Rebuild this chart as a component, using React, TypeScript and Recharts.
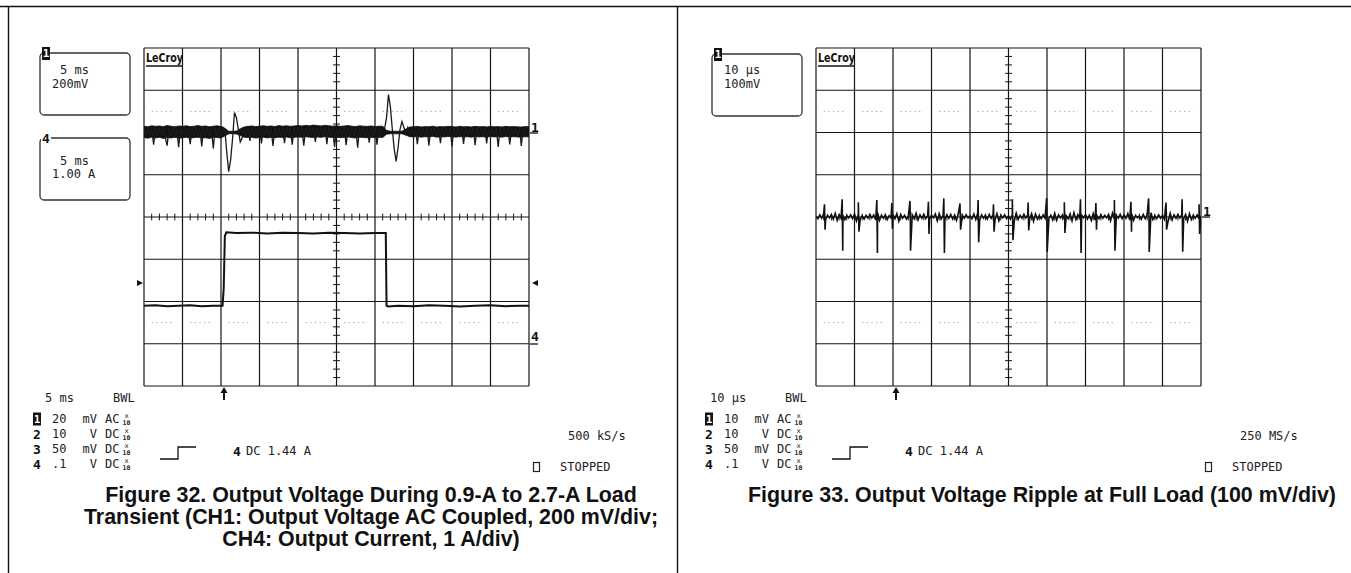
import React from "react";
import { ComposedChart, Line, Area, XAxis, YAxis, CartesianGrid, ReferenceLine } from "recharts";

// ---------- Figure 32: 0.9 A -> 2.7 A load transient, 5 ms/div ----------
// CH1 output voltage (AC coupled, mV), one reading every 0.25 ms from the left edge
const transientStepMs = 0.25;
const ch1TransientMv = [
  18, -16, 24, -22, 20, -58, 26, -18, 22, -14,
  25, -20, -62, 21, -17, 27, -24, 19, -70, 23,
  -15, 26, -21, 18, -55, 24, -19, 28, -23, 20,
  -66, 22, -18, 25, -20, 17, -75, 24, -16, 21,
  -22, 24, 15, -95, -185, -130, -30, 95, 70, 15,
  -45, -25, 18, -14, 22, -40, 20, -16, 24, -18,
  19, -52, 23, -15, 26, -20, 18, -64, 22, -17,
  25, -19, 21, -50, 27, -16, 20, -58, 24, -21,
  28, -17, 22, -62, 19, -15, 30, -22, 25, -45,
  21, -18, 32, -20, 26, -55, 29, -16, 24, -68,
  27, -19, 23, -15, 30, -60, 22, -18, 26, -21,
  20, -72, 25, -16, 28, -19, 22, -48, 24, -17,
  27, -58, 21, -20, 25, 18, 70, 180, 120, 15,
  -80, -137, -70, 15, 52, 25, -8, 22, -16, 24,
  -20, 26, -55, 19, -15, 23, -18, 27, -62, 21,
  -17, 25, -21, 20, -50, 24, -14, 28, -19, 22,
  -66, 23, -16, 26, -22, 19, -54, 25, -18, 21,
  -15, 27, -60, 22, -20, 24, -17, 29, -52, 23,
  -19, 26, -16, 20, -68, 25, -21, 22, -15, 27,
  -57, 21, -18, 24, -20, 26, -63, 22, -16, 25,
  20,
];
// CH1 noise band edges (mV), one every 0.5 ms
const bandStepMs = 0.5;
const ch1BandHighMv = [
  30, 27, 32, 29, 31, 28, 33, 30, 27, 31,
  29, 32, 28, 30, 33, 29, 31, 27, 30, 32,
  28, 20, 6, 6, 7, 18, 26, 29, 31, 28,
  30, 32, 29, 31, 28, 33, 30, 32, 29, 31,
  33, 31, 34, 32, 35, 33, 31, 34, 32, 30,
  32, 29, 31, 33, 30, 28, 32, 30, 29, 31,
  28, 30, 30, 10, 6, 6, 6, 6, 16, 26,
  27, 29, 26, 28, 27, 30, 26, 28, 27, 29,
  28, 26, 29, 27, 28, 26, 29, 27, 28, 26,
  29, 27, 28, 26, 29, 27, 28, 27, 26, 28,
  27,
];
const ch1BandLowMv = [
  -24, -27, -22, -26, -23, -28, -24, -26, -22, -27,
  -25, -23, -27, -24, -22, -26, -25, -28, -23, -24,
  -26, -16, -6, -6, -7, -14, -22, -24, -23, -26,
  -24, -22, -26, -23, -25, -22, -24, -21, -25, -23,
  -21, -23, -20, -22, -24, -21, -23, -20, -22, -24,
  -22, -25, -23, -21, -24, -26, -22, -24, -25, -23,
  -25, -23, -24, -8, -6, -6, -6, -6, -12, -20,
  -21, -19, -22, -20, -21, -18, -22, -20, -21, -19,
  -20, -22, -19, -21, -20, -22, -19, -21, -20, -22,
  -19, -21, -20, -22, -19, -21, -20, -21, -22, -20,
  -21,
];
// CH4 output current (A)
const ch4TimesMs = [
  0, 1.5, 3, 4.5, 6, 7.5, 9, 10.2, 10.35, 10.5, 10.7, 12, 14, 16, 18, 20, 22,
  24, 26, 28, 30, 31.4, 31.5, 31.7, 33, 35, 37, 39, 41, 43, 45, 47, 49, 50,
];
const ch4Amps = [
  0.9, 0.91, 0.89, 0.9, 0.91, 0.89, 0.9, 0.9, 1.3, 2.55, 2.64, 2.62, 2.63, 2.61,
  2.63, 2.62, 2.61, 2.63, 2.62, 2.61, 2.62, 2.62, 0.9, 0.88, 0.9, 0.89, 0.91,
  0.9, 0.88, 0.9, 0.91, 0.89, 0.9, 0.9,
];

// ---------- Figure 33: ripple at full load, 10 us/div ----------
const rippleStepUs = 0.5;
const rippleNoiseMv = [
  2, -4, 5, -3, 8, -6, 4, -2, 6, -5,
  9, -8, 5, -3, 4, -6, 3, -2, 5, -4,
  7, -9, 6, -4, 3, -5, 4, -3, 6, -2,
  5, -7, 10, -8, 4, -3, 5, -6, 3, -2,
  6, -4, 8, -10, 6, -3, 4, -5, 2, -3,
  5, -4, 9, -7, 5, -3, 6, -4, 3, -5,
  4, -2, 7, -9, 8, -5, 3, -4, 5, -3,
  6, -5, 4, -8, 10, -6, 4, -3, 5, -2,
  3, -4, 7, -6, 9, -8, 5, -3, 4, -5,
  6, -3, 5, -7, 8, -9, 4, -2, 5, -4,
  3, -5, 6, -8, 9, -6, 4, -3, 6, -2,
  5, -4, 8, -10, 7, -5, 3, -4, 5, -3,
  6, -3, 4, -7, 9, -8, 5, -2, 4, -5,
  3, -4, 7, -9, 10, -6, 5, -3, 4, -2,
  6, -5, 4, -8, 8, -7, 3, -4, 5, -3,
  4, -2, 6, -9, 9, -5, 4, -3, 6, -4,
  5, -3, 8, -7, 7, -8, 4, -2, 3, -5,
  6, -4, 5, -9, 10, -6, 3, -4, 5, -3,
  4, -5, 7, -8, 9, -7, 5, -3, 6, -2,
  5, -4, 6, -10, 8, -6, 4, -3, 5, -4,
  3,
];
// switching spikes: time, positive tip, negative tip
const spikeTimesUs = [
  2.2, 6.8, 11.0, 15.8, 19.7, 24.4, 29.2, 33.2, 37.4, 42.1, 46.1, 51.0, 55.1,
  59.9, 64.5, 68.7, 72.7, 77.5, 81.8, 86.4, 90.9, 95.1, 99.5,
];
const spikeHighMv = [
  30, 42, 35, 40, 33, 38, 36, 44, 32, 40, 30, 42, 34, 45, 35, 42, 33, 40, 36,
  44, 34, 42, 30,
];
const spikeLowMv = [
  -30, -80, -35, -85, -28, -80, -40, -85, -30, -60, -35, -55, -32, -82, -38,
  -85, -30, -80, -35, -83, -30, -82, -40,
];

// axis ticks (one per division)
const transientMsTicks = [0, 5, 10, 15, 20, 25, 30, 35, 40, 45, 50];
const transientMvTicks = [-1200, -1000, -800, -600, -400, -200, 0, 200, 400];
const rippleUsTicks = [0, 10, 20, 30, 40, 50, 60, 70, 80, 90, 100];
const rippleMvTicks = [-400, -300, -200, -100, 0, 100, 200, 300, 400];

// scope readout texts
const leftRows = [
  ["1", "20", "mV", "AC"],
  ["2", "10", "V", "DC"],
  ["3", "50", "mV", "DC"],
  ["4", ".1", "V", "DC"],
];
const rightRows = [
  ["1", "10", "mV", "AC"],
  ["2", "10", "V", "DC"],
  ["3", "50", "mV", "DC"],
  ["4", ".1", "V", "DC"],
];
const leftCaption = [
  "Figure 32. Output Voltage During 0.9-A to 2.7-A Load",
  "Transient (CH1: Output Voltage AC Coupled, 200 mV/div;",
  "CH4: Output Current, 1 A/div)",
];
const rightCaption = ["Figure 33. Output Voltage Ripple at Full Load (100 mV/div)"];

const ch1Data = ch1TransientMv.map((v, i) => ({ t: i * transientStepMs, v }));
const ch1Band = ch1BandHighMv.map((hi, i) => ({ t: i * bandStepMs, band: [ch1BandLowMv[i], hi] }));
const ch4Data = ch4TimesMs.map((t, i) => ({ t, a: ch4Amps[i] }));
const rippleData = [
  ...rippleNoiseMv.map((v, i) => ({ t: i * rippleStepUs, v })),
  ...spikeTimesUs.flatMap((t, i) => [
    { t, v: spikeHighMv[i] },
    { t: t + 0.15, v: spikeLowMv[i] },
  ]),
].sort((a, b) => a.t - b.t);

const INK = "#151515";
const mono = { fontFamily: "'DejaVu Sans Mono', monospace", fontSize: 12, fill: "#222" } as const;
const monoBold = { ...mono, fontWeight: 700, fontSize: 13, fill: "#111" } as const;

// graticule: centre-line minor ticks and the dotted guide rows, built from the tick lists
function graticule(xTicks: number[], yTicks: number[], xHalf: number, yHalf: number, yAxisId: string) {
  const xDiv = xTicks[1] - xTicks[0];
  const yDiv = yTicks[1] - yTicks[0];
  const xMid = xTicks[5];
  const yMid = yTicks[4];
  const out: React.ReactNode[] = [];
  for (let d = 0; d < 8; d++) {
    for (let k = 1; k < 5; k++) {
      const y = yTicks[d] + (k * yDiv) / 5;
      out.push(
        <ReferenceLine key={`ym${d}-${k}`} yAxisId={yAxisId} stroke={INK} strokeWidth={1}
          segment={[{ x: xMid - xHalf, y }, { x: xMid + xHalf, y }]} />
      );
    }
  }
  for (let d = 0; d < 10; d++) {
    for (let k = 1; k < 5; k++) {
      const x = xTicks[d] + (k * xDiv) / 5;
      out.push(
        <ReferenceLine key={`xm${d}-${k}`} yAxisId={yAxisId} stroke={INK} strokeWidth={1}
          segment={[{ x, y: yMid - yHalf }, { x, y: yMid + yHalf }]} />
      );
    }
  }
  [yMid + 2.5 * yDiv, yMid - 2.5 * yDiv].forEach((y, r) => {
    for (let d = 0; d < 10; d++) {
      out.push(
        <ReferenceLine key={`dot${r}-${d}`} yAxisId={yAxisId} stroke="#9a9a9a" strokeWidth={1}
          strokeDasharray="1.2 3.4"
          segment={[{ x: xTicks[d] + xDiv * 0.2, y }, { x: xTicks[d] + xDiv * 0.8, y }]} />
      );
    }
  });
  return out;
}

function InfoBox({ x, y, tag, inverted, l1, l1x, l2, ty }: any) {
  return (
    <g>
      <rect x={x} y={y} width={90} height={62} rx={4} fill="none" stroke="#333" strokeWidth={1.3} />
      {inverted ? (
        <g>
          <rect x={x + 2} y={y - 6} width={8} height={13} fill="#111" />
          <text x={x + 6} y={y + 0.5} textAnchor="middle" dominantBaseline="central"
            style={{ ...monoBold, fontSize: 11, fill: "#fff" }}>{tag}</text>
        </g>
      ) : (
        <g>
          <rect x={x + 1} y={y - 6} width={10} height={12} fill="#fff" />
          <text x={x + 6} y={y} textAnchor="middle" dominantBaseline="central" style={monoBold}>{tag}</text>
        </g>
      )}
      <text x={l1x} y={y + ty[0]} dominantBaseline="central" style={mono}>{l1}</text>
      <text x={x + 12} y={y + ty[1]} dominantBaseline="central" style={mono}>{l2}</text>
    </g>
  );
}

function Readout({ dx, timebase, timebaseX, rows, rate, gridLeft }: any) {
  return (
    <g transform={`translate(${dx},0)`}>
      {/* LeCroy badge */}
      <text x={gridLeft + 2} y={62} textLength={37} lengthAdjust="spacingAndGlyphs"
        style={{ fontFamily: "'DejaVu Sans', sans-serif", fontWeight: 700, fontSize: 12.5, fill: "#111" }}>LeCroy</text>
      <line x1={gridLeft + 2} x2={gridLeft + 39} y1={66} y2={66} stroke="#111" strokeWidth={1.5} />
      {/* trigger arrow */}
      <line x1={224} x2={224} y1={391} y2={400} stroke="#111" strokeWidth={2} />
      <polygon points="220.5,393 224,387 227.5,393" fill="#111" />
      <text x={timebaseX} y={398} dominantBaseline="central" style={mono}>{timebase}</text>
      <text x={113} y={398} dominantBaseline="central" style={mono}>BWL</text>
      {rows.map((r: string[], i: number) => {
        const y = 419 + i * 15;
        return (
          <g key={i}>
            {i === 0 ? (
              <g>
                <rect x={33} y={y - 6.5} width={8} height={13} fill="#111" />
                <text x={37} y={y} textAnchor="middle" dominantBaseline="central"
                  style={{ ...monoBold, fontSize: 11, fill: "#fff" }}>{r[0]}</text>
              </g>
            ) : (
              <text x={33} y={y} dominantBaseline="central" style={monoBold}>{r[0]}</text>
            )}
            <text x={52} y={y} dominantBaseline="central" style={mono}>{r[1]}</text>
            <text x={97} y={y} textAnchor="end" dominantBaseline="central" style={mono}>{r[2]}</text>
            <text x={105} y={y} dominantBaseline="central" style={mono}>{r[3]}</text>
            <text x={126.5} y={y - 3} textAnchor="middle" dominantBaseline="central"
              style={{ ...mono, fontSize: 7 }}>x</text>
            <text x={126.5} y={y + 3.5} textAnchor="middle" dominantBaseline="central"
              style={{ ...mono, fontSize: 6.5, fontWeight: 700 }}>10</text>
          </g>
        );
      })}
      <polyline points="160,459 178,459 178,447 196,447" fill="none" stroke="#111" strokeWidth={1.3} />
      <text x={233} y={451} dominantBaseline="central" style={monoBold}>4</text>
      <text x={246} y={451} dominantBaseline="central" style={mono}>DC 1.44 A</text>
      <text x={568} y={436} dominantBaseline="central" style={mono}>{rate}</text>
      <rect x={533.5} y={462.5} width={6} height={9} fill="none" stroke="#222" strokeWidth={1.2} />
      <text x={560} y={467} dominantBaseline="central" style={mono}>STOPPED</text>
    </g>
  );
}

function Caption({ lines, cx }: { lines: string[]; cx: number }) {
  return (
    <g>
      {lines.map((s, i) => (
        <text key={i} x={cx} y={502 + i * 22} textAnchor="middle"
          style={{ fontFamily: "'Liberation Sans', Arial, sans-serif", fontWeight: 700, fontSize: 21.4, fill: "#111" }}>
          {s}
        </text>
      ))}
    </g>
  );
}

// axes are only there to give the scales and grid; their labels stay invisible
const axisOff = {
  tick: { fill: "transparent", fontSize: 1 },
  axisLine: false,
  tickLine: false,
  interval: 0 as const,
  allowDataOverflow: true,
};

export default function App() {
  const dx = 672;
  return (
    <div style={{ position: "absolute", left: 0, top: 0, width: 1351, height: 573, background: "#fff", overflow: "hidden" }}>
      {/* Figure 32 scope screen */}
      <div style={{ position: "absolute", left: 134, top: 38 }}>
        <ComposedChart width={405} height={358} margin={{ top: 10, right: 10, bottom: 10, left: 10 }}>
          <XAxis type="number" dataKey="t" domain={[0, 50]} ticks={transientMsTicks} height={0} {...axisOff} />
          <YAxis yAxisId="v" type="number" domain={[-1200, 400]} ticks={transientMvTicks} width={0} {...axisOff} />
          <YAxis yAxisId="a" type="number" domain={[-1, 7]} width={0} {...axisOff} />
          <CartesianGrid yAxisId="v" stroke={INK} strokeWidth={1.2} />
          {graticule(transientMsTicks, transientMvTicks, 0.45, 16, "v")}
          <Area yAxisId="v" data={ch1Band} dataKey="band" type="linear" stroke="#111" strokeWidth={0.8}
            fill="#111" fillOpacity={1} isAnimationActive={false} />
          <Line yAxisId="v" data={ch1Data} dataKey="v" type="linear" stroke="#1a1a1a" strokeWidth={1.3}
            dot={false} isAnimationActive={false} />
          <Line yAxisId="a" data={ch4Data} dataKey="a" type="linear" stroke="#111" strokeWidth={2}
            dot={false} isAnimationActive={false} />
        </ComposedChart>
      </div>

      {/* Figure 33 scope screen */}
      <div style={{ position: "absolute", left: 134 + dx, top: 38 }}>
        <ComposedChart width={405} height={358} margin={{ top: 10, right: 10, bottom: 10, left: 10 }}>
          <XAxis type="number" dataKey="t" domain={[0, 100]} ticks={rippleUsTicks} height={0} {...axisOff} />
          <YAxis yAxisId="v" type="number" domain={[-400, 400]} ticks={rippleMvTicks} width={0} {...axisOff} />
          <CartesianGrid yAxisId="v" stroke={INK} strokeWidth={1.2} />
          {graticule(rippleUsTicks, rippleMvTicks, 0.9, 8, "v")}
          <Line yAxisId="v" data={rippleData} dataKey="v" type="linear" stroke="#111" strokeWidth={1.6}
            dot={false} isAnimationActive={false} />
        </ComposedChart>
      </div>

      {/* page frame, readouts and captions */}
      <svg width={1351} height={573} style={{ position: "absolute", left: 0, top: 0, pointerEvents: "none" }}>
        <line x1={0} x2={1351} y1={6.5} y2={6.5} stroke="#111" strokeWidth={1.4} />
        <line x1={8.5} x2={8.5} y1={6} y2={573} stroke="#111" strokeWidth={1.4} />
        <line x1={677.5} x2={677.5} y1={6} y2={573} stroke="#111" strokeWidth={1.4} />

        <InfoBox x={40} y={53} tag="1" inverted l1="5 ms" l1x={60} l2="200mV" ty={[16.5, 30.5]} />
        <InfoBox x={40} y={138} tag="4" l1="5 ms" l1x={60} l2="1.00 A" ty={[23, 36]} />
        <InfoBox x={40 + dx} y={54} tag="1" inverted l1="10 μs" l1x={52 + dx} l2="100mV" ty={[16, 30]} />

        <Readout dx={0} timebase="5 ms" timebaseX={45} rows={leftRows} rate="500 kS/s" gridLeft={144} />
        <Readout dx={dx} timebase="10 μs" timebaseX={38} rows={rightRows} rate="250 MS/s" gridLeft={144} />

        {/* channel ground markers and trigger level markers */}
        <text x={531} y={127} dominantBaseline="central" style={monoBold}>1</text>
        <line x1={530} x2={538} y1={133} y2={133} stroke="#111" strokeWidth={1.3} />
        <text x={531} y={336} dominantBaseline="central" style={monoBold}>4</text>
        <line x1={530} x2={538} y1={344} y2={344} stroke="#111" strokeWidth={1.3} />
        <polygon points="137,280 143,283 137,286" fill="#111" />
        <polygon points="538,280 532,283 538,286" fill="#111" />
        <text x={1203} y={211} dominantBaseline="central" style={monoBold}>1</text>
        <line x1={1202} x2={1210} y1={217} y2={217} stroke="#111" strokeWidth={1.3} />

        <Caption lines={leftCaption} cx={371} />
        <Caption lines={rightCaption} cx={1042} />
      </svg>
    </div>
  );
}
